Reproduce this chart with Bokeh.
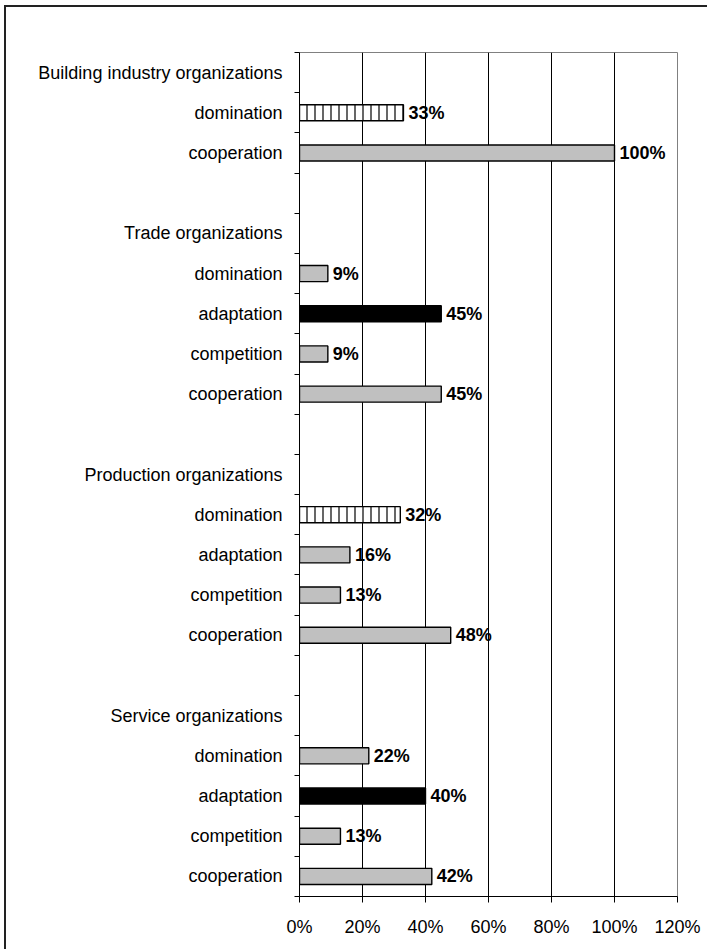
from bokeh.plotting import figure
from bokeh.models import Range1d, FixedTicker, ColumnDataSource, PrintfTickFormatter
from bokeh.core.properties import value
from bokeh.embed import file_html
from bokeh.resources import INLINE

# rows top to bottom (blank rows are spacers between groups)
row_labels = [
    "Building industry organizations", "domination", "cooperation", "",
    "Trade organizations", "domination", "adaptation", "competition", "cooperation", "",
    "Production organizations", "domination", "adaptation", "competition", "cooperation", "",
    "Service organizations", "domination", "adaptation", "competition", "cooperation",
]

# bars: row position (1-based from top), value in %, style
bar_rows = [2, 3, 6, 7, 8, 9, 12, 13, 14, 15, 18, 19, 20, 21]
bar_values = [33, 100, 9, 45, 9, 45, 32, 16, 13, 48, 22, 40, 13, 42]
bar_styles = ["hatch", "gray", "gray", "black", "gray", "gray",
              "hatch", "gray", "gray", "gray", "gray", "black", "gray", "gray"]
x_ticks = [0, 20, 40, 60, 80, 100, 120]

FONT = "Liberation Sans"
FS = "18px"

n = len(row_labels)
p = figure(width=703, height=944, output_backend="svg", toolbar_location=None,
           x_range=Range1d(0, 120), y_range=Range1d(n + 0.5, 0.5))
p.styles = {"border-left": "2px solid #222", "border-top": "2px solid #222",
            "margin-left": "4px", "margin-top": "5px"}
p.min_border_left = 293
p.min_border_right = 32
p.min_border_top = 45
p.min_border_bottom = 55
p.background_fill_color = "white"
p.border_fill_color = "white"
p.outline_line_color = "#808080"
p.outline_line_width = 1

fill_map = {"gray": "#C0C0C0", "black": "#000000", "hatch": "#FFFFFF"}
hatch_map = {"gray": " ", "black": " ", "hatch": "|"}
src = ColumnDataSource(dict(
    y=bar_rows, v=bar_values,
    fill=[fill_map[s] for s in bar_styles],
    hatch=[hatch_map[s] for s in bar_styles],
    lbl=[f"{v}%" for v in bar_values],
))

# grid
p.ygrid.visible = False
p.xgrid.ticker = FixedTicker(ticks=[20, 40, 60, 80, 100])
p.xgrid.grid_line_color = "#000000"
p.xgrid.grid_line_width = 1

p.hbar(y="y", right="v", left=0, height=0.4, source=src, fill_color="fill",
       line_color="black", line_width=1.4, hatch_pattern="hatch",
       hatch_color="black", hatch_scale=8, hatch_weight=1.2)
p.text(x="v", y="y", text="lbl", source=src, x_offset=5,
       text_font=value(FONT), text_font_style="bold", text_font_size=FS,
       text_baseline="middle", text_align="left", text_color="black")

# x axis
p.xaxis.ticker = FixedTicker(ticks=x_ticks)
p.xaxis.formatter = PrintfTickFormatter(format="%d%%")
p.xaxis.major_label_text_font = FONT
p.xaxis.major_label_text_font_size = FS
p.xaxis.major_label_text_color = "black"
p.xaxis.major_tick_out = 6
p.xaxis.major_tick_in = 0
p.xaxis.minor_tick_out = 0
p.xaxis.major_label_standoff = 14
p.xaxis.axis_line_color = "black"
p.xaxis.major_tick_line_color = "black"

# y axis
p.yaxis.ticker = FixedTicker(ticks=list(range(1, n + 1)),
                             minor_ticks=[i + 0.5 for i in range(0, n + 1)])
p.yaxis.major_label_overrides = {i + 1: (lab if lab else " ") for i, lab in enumerate(row_labels)}
p.yaxis.major_label_text_font = FONT
p.yaxis.major_label_text_font_size = FS
p.yaxis.major_label_text_color = "black"
p.yaxis.major_tick_out = 0
p.yaxis.major_tick_in = 0
p.yaxis.minor_tick_out = 5
p.yaxis.minor_tick_in = 0
p.yaxis.minor_tick_line_color = "black"
p.yaxis.major_label_standoff = 12
p.yaxis.axis_line_color = "black"

open("out.html", "w").write(file_html(p, INLINE))
